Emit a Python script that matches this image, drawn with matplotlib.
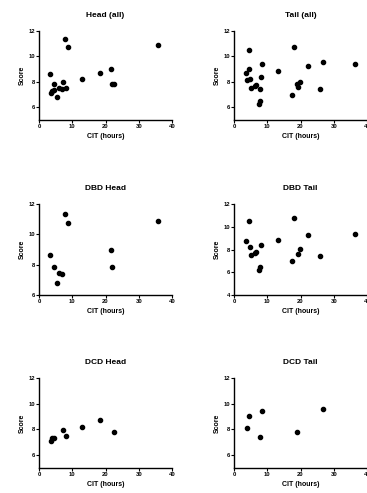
import numpy as np
import matplotlib
matplotlib.use("Agg")
from matplotlib import pyplot as plt

plt.rcParams['font.family'] = ['Liberation Sans', 'DejaVu Sans']
plt.rcParams['font.weight'] = 'bold'

# DBD / DCD values; "all" panels are the union
dbd_head_cit = [3.3, 4.5, 5.3, 6.1, 6.8, 7.9, 8.6, 21.6, 21.9, 35.9]
dbd_head_score = [8.65, 7.87, 6.78, 7.48, 7.40, 11.37, 10.75, 8.98, 7.83, 10.86]

dcd_head_cit = [3.7, 4.0, 4.4, 7.3, 8.2, 12.8, 18.4, 22.7]
dcd_head_score = [7.09, 7.30, 7.37, 7.95, 7.51, 8.20, 8.70, 7.82]

dbd_tail_cit = [3.6, 4.6, 4.7, 5.1, 6.3, 6.6, 7.4, 7.8, 8.2, 13.2, 17.3, 17.9,
                19.3, 19.9, 22.2, 25.9, 36.3]
dbd_tail_score = [8.72, 10.52, 8.22, 7.51, 7.66, 7.79, 6.24, 6.48, 8.38, 8.85,
                  6.95, 10.78, 7.60, 8.01, 9.24, 7.45, 9.38]

dcd_tail_cit = [4.0, 4.6, 7.8, 8.4, 18.8, 26.8]
dcd_tail_score = [8.15, 9.04, 7.45, 9.43, 7.82, 9.58]

panels = [
    ("Head (all)", dbd_head_cit + dcd_head_cit, dbd_head_score + dcd_head_score, (5, 12), [6, 8, 10, 12]),
    ("Tail (all)", dbd_tail_cit + dcd_tail_cit, dbd_tail_score + dcd_tail_score, (5, 12), [6, 8, 10, 12]),
    ("DBD Head", dbd_head_cit, dbd_head_score, (6, 12), [6, 8, 10, 12]),
    ("DBD Tail", dbd_tail_cit, dbd_tail_score, (4, 12), [4, 6, 8, 10, 12]),
    ("DCD Head", dcd_head_cit, dcd_head_score, (5, 12), [6, 8, 10, 12]),
    ("DCD Tail", dcd_tail_cit, dcd_tail_score, (5, 12), [6, 8, 10, 12]),
]

W, H = 367, 493
lefts = [39, 234]
rows = [(31, 120), (204, 295), (378, 468)]

fig = plt.figure(figsize=(W / 100, H / 100), dpi=100)

for i, (title, x, y, ylim, yticks) in enumerate(panels):
    r, c = divmod(i, 2)
    top, bot = rows[r]
    ax = fig.add_axes([lefts[c] / W, 1 - bot / H, 133 / W, (bot - top) / H])
    ax.scatter(x, y, s=9, color='black', zorder=3, clip_on=False)
    ax.set_xlim(0, 40)
    ax.set_ylim(*ylim)
    ax.set_xticks([0, 10, 20, 30, 40])
    ax.set_yticks(yticks)
    for s in ['top', 'right']:
        ax.spines[s].set_visible(False)
    for s in ['left', 'bottom']:
        ax.spines[s].set_linewidth(1.0)
    ax.tick_params(labelsize=4.2, length=2, width=0.8, pad=1)
    for lab in ax.get_xticklabels() + ax.get_yticklabels():
        lab.set_fontweight('bold')
    ax.set_title(title, fontsize=6, fontweight='bold', pad=10)
    ax.set_xlabel("CIT (hours)", fontsize=5, fontweight='bold', labelpad=3)
    ax.set_ylabel("Score", fontsize=5, fontweight='bold', labelpad=2)

fig.savefig("out.png", dpi=100)
